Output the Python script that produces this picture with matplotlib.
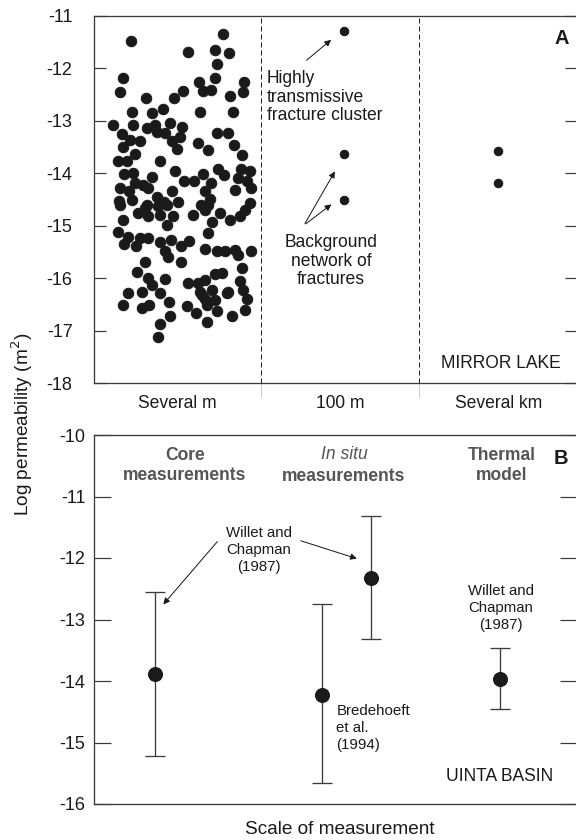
import matplotlib
matplotlib.use("Agg")
import matplotlib.pyplot as plt
from matplotlib.ticker import FixedLocator

plt.rcParams['font.family'] = ['Liberation Sans', 'DejaVu Sans']

# ---------------- Panel A data (Mirror Lake) ----------------
core_x = [0.234, 0.806, 0.585, 0.754, 0.843, 0.769, 0.186, 0.754, 0.657, 0.936,
          0.166, 0.558, 0.678, 0.730, 0.930, 0.324, 0.502, 0.847, 0.434, 0.237,
          0.361, 0.661, 0.864, 0.118, 0.248, 0.330, 0.383, 0.476, 0.392, 0.445,
          0.547, 0.764, 0.837, 0.175, 0.228, 0.290, 0.485, 0.538, 0.521, 0.647,
          0.713, 0.874, 0.186, 0.259, 0.924, 0.155, 0.206, 0.414, 0.190, 0.248,
          0.507, 0.771, 0.812, 0.916, 0.971, 0.361, 0.564, 0.626, 0.678, 0.730,
          0.899, 0.950, 0.259, 0.310, 0.341, 0.166, 0.221, 0.490, 0.692, 0.878,
          0.978, 0.159, 0.237, 0.392, 0.440, 0.527, 0.723, 0.330, 0.971, 0.668,
          0.166, 0.321, 0.279, 0.403, 0.454, 0.341, 0.414, 0.496, 0.454, 0.620,
          0.692, 0.713, 0.785, 0.847, 0.909, 0.940, 0.186, 0.733, 0.713, 0.155,
          0.217, 0.192, 0.290, 0.341, 0.262, 0.414, 0.482, 0.445, 0.465, 0.544,
          0.593, 0.692, 0.764, 0.816, 0.878, 0.899, 0.978, 0.321, 0.544, 0.919,
          0.268, 0.341, 0.366, 0.445, 0.589, 0.647, 0.692, 0.754, 0.800, 0.733,
          0.909, 0.217, 0.299, 0.414, 0.661, 0.837, 0.930, 0.180, 0.299, 0.345,
          0.469, 0.578, 0.634, 0.671, 0.702, 0.754, 0.764, 0.702, 0.857, 0.940,
          0.950, 0.826, 0.476, 0.414, 0.399, 0.694]
core_logk = [-11.48, -11.35, -11.69, -11.64, -11.71, -11.92, -12.19, -12.18, -12.26, -12.26,
             -12.45, -12.43, -12.43, -12.41, -12.45, -12.56, -12.57, -12.53, -12.78, -12.83,
             -12.85, -12.83, -12.83, -13.07, -13.08, -13.14, -13.07, -13.04, -13.21, -13.23,
             -13.12, -13.24, -13.24, -13.25, -13.36, -13.38, -13.38, -13.31, -13.54, -13.42,
             -13.56, -13.47, -13.50, -13.63, -13.66, -13.77, -13.77, -13.77, -14.02, -14.00,
             -13.95, -13.91, -14.03, -13.91, -13.95, -14.07, -14.14, -14.14, -14.02, -14.19,
             -14.09, -14.15, -14.19, -14.23, -14.28, -14.29, -14.33, -14.33, -14.33, -14.31,
             -14.29, -14.52, -14.50, -14.46, -14.54, -14.54, -14.49, -14.60, -14.57, -14.61,
             -14.61, -14.67, -14.76, -14.63, -14.60, -14.82, -14.79, -14.82, -14.98, -14.80,
             -14.70, -14.60, -14.76, -14.89, -14.82, -14.70, -14.89, -14.92, -15.14, -15.12,
             -15.21, -15.35, -15.23, -15.23, -15.38, -15.32, -15.27, -15.49, -15.59, -15.38,
             -15.29, -15.44, -15.49, -15.49, -15.46, -15.56, -15.48, -15.70, -15.70, -15.80,
             -15.89, -16.00, -16.13, -16.02, -16.10, -16.10, -16.03, -15.93, -15.91, -16.23,
             -16.05, -16.29, -16.26, -16.29, -16.26, -16.26, -16.23, -16.51, -16.56, -16.51,
             -16.46, -16.53, -16.67, -16.32, -16.51, -16.42, -16.63, -16.83, -16.72, -16.61,
             -16.39, -16.29, -16.72, -16.88, -17.12, -16.39]

hole_x = 1.556
hole_logk = [-11.29, -13.64, -14.50]
regional_x = 2.507
regional_logk = [-13.58, -14.19]

scale_labels = ["Several m", "100 m", "Several km"]
dividers = [1.042, 2.022]

# ---------------- Panel B data (Uinta Basin) ----------------
b_x = [0.381, 1.420, 1.721, 2.523]
b_center = [-13.89, -14.22, -12.32, -13.96]
b_top = [-12.55, -12.75, -11.31, -13.46]
b_bottom = [-15.22, -15.66, -13.31, -14.45]

W, H, DPI = 576, 840, 72
fig = plt.figure(figsize=(W / DPI, H / DPI), dpi=DPI)

spine_c = '#3a3a3a'
text_c = '#1a1a1a'
gray_c = '#555555'

axA = fig.add_axes([93.5 / W, 1 - 383 / H, 483.5 / W, 367 / H])
axB = fig.add_axes([93.5 / W, 1 - 804 / H, 483.5 / W, 369 / H])

for ax in (axA, axB):
    for s in ax.spines.values():
        s.set_color(spine_c)
        s.set_linewidth(1.3)
    ax.set_xlim(0, 3)

# ---- Panel A ----
axA.set_ylim(-18, -11)
axA.plot(core_x, core_logk, 'o', ms=10.5, color='#1a1a1a', mec='#1a1a1a', ls='none')
axA.plot([hole_x] * len(hole_logk), hole_logk, 'o', ms=8.5, color='#1a1a1a', ls='none')
axA.plot([regional_x] * len(regional_logk), regional_logk, 'o', ms=8.5, color='#1a1a1a', ls='none')
for d in dividers:
    axA.axvline(d, color='#222222', lw=1.0, dashes=(5, 3))

centers = [(0 + dividers[0]) / 2, (dividers[0] + dividers[1]) / 2, (dividers[1] + 3) / 2]
axA.set_xticks(centers)
axA.set_xticklabels(scale_labels, fontsize=17.5, color=text_c)
axA.tick_params(axis='x', length=0, pad=12)
axA.xaxis.set_minor_locator(FixedLocator(dividers))
axA.tick_params(axis='x', which='minor', length=14, direction='out', color='#cccccc', width=1)
axA.set_yticks(range(-18, -10))
axA.set_yticklabels([str(v) for v in range(-18, -10)], fontsize=18, color=text_c)
axA.tick_params(axis='y', direction='in', length=12, width=1.2, color=spine_c,
                right=True, pad=21)

axA.text(1.076, -12.55, "Highly\ntransmissive\nfracture cluster", fontsize=17.5,
         ha='left', va='center', linespacing=1.12, color=text_c)
axA.annotate("", xy=(1.484, -11.43), xytext=(1.312, -11.87),
             arrowprops=dict(arrowstyle='-|>', color='#1a1a1a', lw=1.0, mutation_scale=13))
axA.text(1.473, -15.68, "Background\nnetwork of\nfractures", fontsize=17.5,
         ha='center', va='center', linespacing=1.12, color=text_c)
for tgt in [(1.504, -13.93), (1.486, -14.57)]:
    axA.annotate("", xy=tgt, xytext=(1.306, -14.99),
                 arrowprops=dict(arrowstyle='-|>', color='#1a1a1a', lw=1.0, mutation_scale=13))
axA.text(2.908, -11.42, "A", fontsize=20, fontweight='bold', ha='center', va='center', color=text_c)
axA.text(2.526, -17.62, "MIRROR LAKE", fontsize=17.5, ha='center', va='center', color=text_c)

# ---- Panel B ----
axB.set_ylim(-16, -10)
yerr = [[c - b for c, b in zip(b_center, b_bottom)], [t - c for c, t in zip(b_center, b_top)]]
axB.errorbar(b_x, b_center, yerr=yerr, fmt='o', ms=14, color='#1a1a1a', mfc='#1a1a1a',
             ecolor='#3a3a3a', elinewidth=1.3, capsize=10, capthick=1.3)
axB.set_xticks([])
axB.set_yticks(range(-16, -9))
axB.set_yticklabels([str(v) for v in range(-16, -9)], fontsize=18, color=text_c)
axB.tick_params(axis='y', direction='in', length=17, width=1.2, color=spine_c,
                right=True, pad=8)
axB.set_xlabel("Scale of measurement", fontsize=19, color=text_c)
axB.xaxis.set_label_coords(0.51, -0.045, transform=axB.transAxes)
axB.xaxis.label.set_va('top')

axB.text(0.568, -10.50, "Core\nmeasurements", fontsize=17.5, fontweight='bold',
         color=gray_c, ha='center', va='center', linespacing=1.25)
axB.text(1.554, -10.32, "In situ", fontsize=17.5, fontstyle='italic',
         color=gray_c, ha='center', va='center')
axB.text(1.554, -10.68, "measurements", fontsize=17.5, fontweight='bold',
         color=gray_c, ha='center', va='center')
axB.text(2.533, -10.50, "Thermal\nmodel", fontsize=17.5, fontweight='bold',
         color=gray_c, ha='center', va='center', linespacing=1.25)
axB.text(2.900, -10.38, "B", fontsize=20, fontweight='bold', ha='center', va='center', color=text_c)

axB.text(1.027, -11.87, "Willet and\nChapman\n(1987)", fontsize=15,
         ha='center', va='center', linespacing=1.27, color=text_c)
axB.annotate("", xy=(0.425, -12.78), xytext=(0.776, -11.71),
             arrowprops=dict(arrowstyle='-|>', color='#1a1a1a', lw=1.0, mutation_scale=13))
axB.annotate("", xy=(1.646, -12.02), xytext=(1.274, -11.71),
             arrowprops=dict(arrowstyle='-|>', color='#1a1a1a', lw=1.0, mutation_scale=13))
axB.text(2.528, -12.82, "Willet and\nChapman\n(1987)", fontsize=15,
         ha='center', va='center', linespacing=1.27, color=text_c)
axB.text(1.507, -14.76, "Bredehoeft\net al.\n(1994)", fontsize=15,
         ha='left', va='center', linespacing=1.27, color=text_c)
axB.text(2.522, -15.56, "UINTA BASIN", fontsize=17.5, ha='center', va='center', color=text_c)

fig.text(22 / W, 1 - 424 / H, "Log permeability (m$^2$)", rotation=90, fontsize=19,
         ha='center', va='center', color=text_c)

fig.savefig("out.png", dpi=DPI)
